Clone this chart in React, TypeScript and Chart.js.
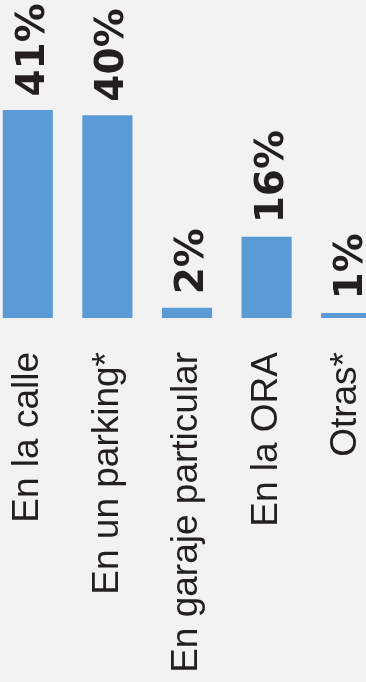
import React, { useEffect, useRef } from "react";
import { Chart, registerables } from "chart.js";

Chart.register(...registerables);

const categories: string[] = ["En la calle", "En un parking*", "En garaje particular", "En la ORA", "Otras*"];
const values: number[] = [41, 40, 2, 16, 1];
const valueLabels: string[] = ["41%", "40%", "2%", "16%", "1%"];

const BAR_COLOR = "#5b9bd5";
const BG = "#f2f2f2";
const TEXT = "#231f20";

const valueLabelPlugin = {
  id: "valueLabels",
  afterDatasetsDraw(chart: any) {
    const ctx = chart.ctx;
    const meta = chart.getDatasetMeta(0);
    ctx.save();
    ctx.fillStyle = TEXT;
    ctx.font = "bold 39px 'DejaVu Sans'";
    ctx.textAlign = "left";
    ctx.textBaseline = "alphabetic";
    meta.data.forEach((bar: any, i: number) => {
      ctx.save();
      ctx.translate(bar.x + 16, bar.y - 13.5);
      ctx.rotate(-Math.PI / 2);
      ctx.fillText(valueLabels[i], 0, 0);
      ctx.restore();
    });
    ctx.restore();
  },
};

export default function App() {
  const canvasRef = useRef<HTMLCanvasElement | null>(null);

  useEffect(() => {
    document.body.style.margin = "0";
    document.body.style.background = BG;
    const canvas = canvasRef.current;
    if (!canvas) return;
    const chart = new Chart(canvas, {
      type: "bar",
      data: {
        labels: categories,
        datasets: [
          {
            data: values,
            backgroundColor: BAR_COLOR,
            borderWidth: 0,
            categoryPercentage: 1,
            barPercentage: 0.63,
          },
        ],
      },
      options: {
        animation: false,
        responsive: false,
        maintainAspectRatio: false,
        layout: { padding: 0 },
        plugins: {
          legend: { display: false },
          tooltip: { enabled: false },
          title: { display: false },
        },
        scales: {
          x: {
            grid: { display: false },
            border: { display: false },
            ticks: {
              autoSkip: false,
              minRotation: 90,
              maxRotation: 90,
              padding: 26,
              color: TEXT,
              font: { family: "'Liberation Sans', Arial, sans-serif", size: 37 },
            },
            afterFit: (scale: any) => {
              scale.height = 364;
              scale.paddingLeft = 0;
              scale.paddingRight = 0;
              scale.paddingTop = 0;
              scale.paddingBottom = 0;
            },
          },
          y: {
            display: false,
            min: 0,
            max: 62.7,
          },
        },
      },
      plugins: [valueLabelPlugin],
    });
    return () => chart.destroy();
  }, []);

  return (
    <div
      style={{
        position: "fixed",
        left: 0,
        top: 0,
        width: 366,
        height: 682,
        overflow: "hidden",
        background: BG,
      }}
    >
      <canvas
        ref={canvasRef}
        width={398}
        height={682}
        style={{ position: "absolute", left: -12.5, top: 0, width: 398, height: 682 }}
      />
    </div>
  );
}
